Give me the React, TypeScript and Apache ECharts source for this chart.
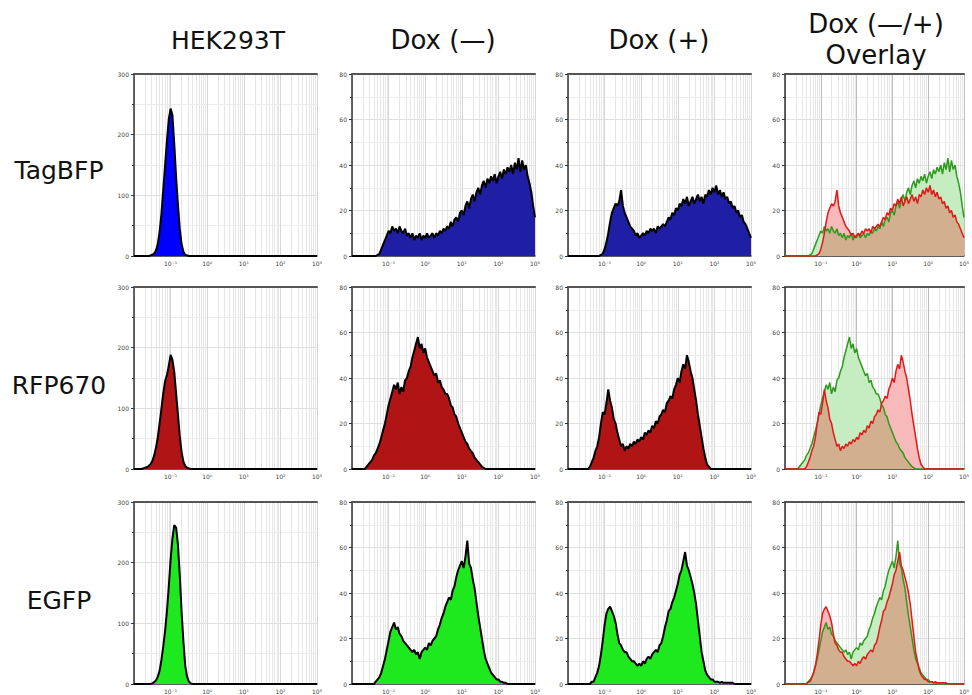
import React, { useEffect, useRef } from "react";
import * as echarts from "echarts";

// x positions are log10 of fluorescence, bins of width 0.05 starting at -2
const X_START = -2;
const X_STEP = 0.05;
const X_MIN = -2;
const X_MAX = 3;
const X_TICKS = [-1, 0, 1, 2, 3];
const X_TICK_LABELS = ["10⁻¹", "10⁰", "10¹", "10²", "10³"];

const COLUMN_TITLES = ["HEK293T", "Dox (—)", "Dox (+)", "Dox (—/+)", "Overlay"];
const ROW_LABELS = ["TagBFP", "RFP670", "EGFP"];
const Y_MAX = [300, 80, 80, 80];
const Y_INTERVAL = [100, 20, 20, 20];

// HEK293T
const HEK_TAGBFP = [
  0, 0, 0, 0, 0, 0, 0, 0, 0, 1,
  2, 4, 9, 20, 40, 70, 110, 150, 190, 225,
  243, 232, 185, 130, 85, 45, 20, 7, 2, 1,
  0, 0, 0, 0, 0, 0, 0, 0, 0, 0,
  0, 0, 0, 0, 0, 0, 0, 0, 0, 0,
  0, 0, 0, 0, 0, 0, 0, 0, 0, 0,
  0, 0, 0, 0, 0, 0, 0, 0, 0, 0,
  0, 0, 0, 0, 0, 0, 0, 0, 0, 0,
  0, 0, 0, 0, 0, 0, 0, 0, 0, 0,
  0, 0, 0, 0, 0, 0, 0, 0, 0, 0,
  0,
];
const HEK_RFP670 = [
  0, 0, 0, 0, 0, 1, 2, 3, 5, 8,
  13, 22, 35, 52, 75, 100, 125, 145, 155, 170,
  188, 180, 160, 125, 90, 55, 28, 12, 5, 2,
  1, 0, 0, 0, 0, 0, 0, 0, 0, 0,
  0, 0, 0, 0, 0, 0, 0, 0, 0, 0,
  0, 0, 0, 0, 0, 0, 0, 0, 0, 0,
  0, 0, 0, 0, 0, 0, 0, 0, 0, 0,
  0, 0, 0, 0, 0, 0, 0, 0, 0, 0,
  0, 0, 0, 0, 0, 0, 0, 0, 0, 0,
  0, 0, 0, 0, 0, 0, 0, 0, 0, 0,
  0,
];
const HEK_EGFP = [
  0, 0, 0, 0, 0, 0, 0, 0, 0, 0,
  1, 3, 6, 12, 22, 40, 62, 88, 120, 160,
  205, 240, 262, 258, 230, 180, 120, 70, 30, 12,
  4, 1, 0, 0, 0, 0, 0, 0, 0, 0,
  0, 0, 0, 0, 0, 0, 0, 0, 0, 0,
  0, 0, 0, 0, 0, 0, 0, 0, 0, 0,
  0, 0, 0, 0, 0, 0, 0, 0, 0, 0,
  0, 0, 0, 0, 0, 0, 0, 0, 0, 0,
  0, 0, 0, 0, 0, 0, 0, 0, 0, 0,
  0, 0, 0, 0, 0, 0, 0, 0, 0, 0,
  0,
];

// Dox (-)
const DOXN_TAGBFP = [
  0, 0, 0, 0, 0, 0, 0, 0, 0, 0,
  0, 0, 0, 0, 0.5, 1, 3, 5, 7, 9,
  11, 10, 13, 11, 12, 10, 13, 11, 10, 12,
  9, 10, 8, 10, 7, 9, 8, 10, 7, 9,
  8, 10, 8, 9, 10, 8, 10, 9, 11, 10,
  12, 11, 13, 12, 15, 13, 16, 17, 15, 19,
  20, 18, 22, 24, 21, 25, 27, 24, 28, 30,
  27, 31, 33, 30, 34, 32, 35, 33, 36, 32,
  35, 37, 34, 38, 36, 39, 37, 40, 36, 41,
  38, 43, 37, 42, 38, 40, 35, 32, 28, 22,
  17,
];
const DOXN_RFP670 = [
  0, 0, 0, 0, 0, 0, 0, 0, 1, 2,
  3, 4, 6, 7, 9, 11, 14, 17, 20, 24,
  28, 31, 34, 37, 35, 38, 33, 36, 34, 39,
  40, 43, 45, 49, 52, 55, 58, 53, 55, 51,
  53, 49, 47, 45, 43, 41, 42, 38, 39, 36,
  35, 33, 33, 31, 28, 27, 24, 23, 20, 18,
  16, 14, 12, 11, 9, 8, 7, 5, 4, 3,
  2, 1, 0.5, 0, 0, 0, 0, 0, 0, 0,
  0, 0, 0, 0, 0, 0, 0, 0, 0, 0,
  0, 0, 0, 0, 0, 0, 0, 0, 0, 0,
  0,
];
const DOXN_EGFP = [
  0, 0, 0, 0, 0, 0, 0, 0, 0, 0,
  0, 0, 0, 1, 2, 3, 5, 8, 11, 15,
  19, 23, 25, 27, 24, 25, 22, 21, 19, 18,
  17, 16, 15, 14, 15, 13, 14, 11, 14, 15,
  16, 15, 18, 17, 19, 20, 21, 24, 26, 29,
  31, 34, 36, 38, 37, 41, 43, 47, 50, 52,
  54, 51, 56, 63, 53, 51, 46, 42, 36, 30,
  25, 20, 15, 11, 9, 7, 5, 4, 3, 2,
  2, 1, 1, 0.5, 0.5, 0, 0, 0, 0, 0,
  0, 0, 0, 0, 0, 0, 0, 0, 0, 0,
  0,
];

// Dox (+)
const DOXP_TAGBFP = [
  0, 0, 0, 0, 0, 0, 0, 0, 0, 0,
  0, 0, 0, 0, 0, 0, 0, 0, 0.5, 1,
  3, 6, 10, 15, 19, 21, 23, 22, 24, 29,
  22, 19, 17, 15, 13, 12, 11, 9, 10, 8,
  9, 10, 9, 11, 10, 12, 11, 12, 10, 13,
  12, 13, 14, 13, 15, 17, 16, 19, 18, 21,
  20, 23, 22, 25, 23, 26, 22, 24, 26, 23,
  25, 27, 24, 26, 23, 27, 26, 29, 27, 30,
  28, 31, 27, 29, 26, 28, 25, 26, 23, 24,
  21, 22, 19, 20, 17, 18, 15, 14, 12, 10,
  8,
];
const DOXP_RFP670 = [
  0, 0, 0, 0, 0, 0, 0, 0, 0, 0,
  0, 0, 1, 3, 5, 8, 10, 14, 20, 25,
  24, 29, 35, 30, 27, 22, 20, 16, 13, 10,
  11, 8, 10, 9, 11, 10, 12, 11, 13, 12,
  14, 13, 16, 15, 17, 16, 19, 18, 21, 20,
  23, 24, 26, 25, 29, 30, 32, 31, 35, 37,
  40, 38, 43, 46, 44, 50, 47, 43, 40, 35,
  30, 24, 19, 14, 9, 5, 2, 1, 0, 0,
  0, 0, 0, 0, 0, 0, 0, 0, 0, 0,
  0, 0, 0, 0, 0, 0, 0, 0, 0, 0,
  0,
];
const DOXP_EGFP = [
  0, 0, 0, 0, 0, 0, 0, 0, 0, 0,
  0, 0, 0, 1, 1, 3, 5, 8, 13, 19,
  26, 31, 33, 34, 32, 30, 27, 22, 18, 17,
  15, 14, 14, 12, 11, 10, 10, 9, 8, 9,
  8, 10, 9, 11, 12, 11, 13, 14, 15, 14,
  17, 18, 21, 25, 28, 32, 33, 36, 38, 41,
  44, 48, 50, 54, 58, 52, 50, 47, 44, 40,
  35, 28, 21, 14, 10, 6, 4, 3, 2, 2,
  1, 1, 1, 0.5, 1, 0.5, 0.5, 0.5, 0.5, 0.5,
  0.5, 0, 0, 0, 0, 0, 0, 0, 0, 0,
  0,
];

const HEK_ROWS = [HEK_TAGBFP, HEK_RFP670, HEK_EGFP];
const DOXN_ROWS = [DOXN_TAGBFP, DOXN_RFP670, DOXN_EGFP];
const DOXP_ROWS = [DOXP_TAGBFP, DOXP_RFP670, DOXP_EGFP];

// styling
const HEK_FILLS = ["#0000ff", "#b01414", "#1ee81e"];
const DOX_FILLS = ["#1f1fa6", "#b01414", "#1ee81e"];
const OVERLAY = {
  minusFill: "#c6ecc1",
  plusFill: "#f7b9b9",
  bothFill: "#d1af8f",
  minusLine: "#2e9a1c",
  plusLine: "#e01818",
};

const COL_LEFT = [134, 352, 568, 785];
const ROW_TOP = [74, 287, 502];
const PLOT_W = 183;
const PLOT_H = 182;

// minor log grid positions (2..9 x 10^n)
const MINOR_X: number[] = [];
for (let n = X_MIN; n < X_MAX; n++) {
  for (let k = 2; k <= 9; k++) MINOR_X.push(n + Math.log10(k));
}

function toPairs(values: number[]) {
  return values.map((v, i) => [X_START + i * X_STEP, v]);
}

function buildOption() {
  const grid: any[] = [];
  const xAxis: any[] = [];
  const topAxes: any[] = [];
  const minorAxes: any[] = [];
  const yAxis: any[] = [];
  const series: any[] = [];

  for (let r = 0; r < 3; r++) {
    for (let c = 0; c < 4; c++) {
      const g = r * 4 + c;
      grid.push({ left: COL_LEFT[c], top: ROW_TOP[r], width: PLOT_W, height: PLOT_H });
      xAxis.push({
        type: "value",
        gridIndex: g,
        position: "bottom",
        min: X_MIN,
        max: X_MAX,
        interval: 1,
        z: 1,
        axisLine: { show: true, onZero: false, lineStyle: { color: "#333", width: 1.5 } },
        axisTick: { show: false },
        minorTick: { show: false },
        axisLabel: {
          fontSize: 6,
          color: "#444",
          margin: 4,
          showMaxLabel: true,
          fontFamily: "DejaVu Sans",
          formatter: (v: number) => {
            const idx = X_TICKS.indexOf(Math.round(v));
            return idx >= 0 ? X_TICK_LABELS[idx] : "";
          },
        },
        splitLine: { show: true, lineStyle: { color: c === 3 ? "#bdbdbd" : "#d6d6d6", width: 1 } },
      });
      topAxes.push({
        type: "value",
        gridIndex: g,
        position: "top",
        min: X_MIN,
        max: X_MAX,
        interval: 1,
        z: 1,
        axisLine: { show: true, onZero: false, lineStyle: { color: "#555", width: 2 } },
        axisTick: { show: false },
        minorTick: { show: false },
        axisLabel: { show: false },
        splitLine: { show: false },
        minorSplitLine: { show: false },
      });
      // hidden axis whose long inside ticks draw the minor log grid
      minorAxes.push({
        type: "value",
        gridIndex: g,
        position: "bottom",
        min: X_MIN,
        max: X_MAX,
        z: 0,
        axisLine: { show: false, onZero: false },
        axisLabel: { show: false },
        splitLine: { show: false },
        axisTick: {
          show: true,
          inside: true,
          length: PLOT_H,
          customValues: MINOR_X,
          lineStyle: { color: "#e6e6e6", width: 1 },
        },
      });
      yAxis.push({
        type: "value",
        gridIndex: g,
        min: 0,
        max: Y_MAX[c],
        interval: Y_INTERVAL[c],
        z: 1,
        axisLine: { show: true, onZero: false, lineStyle: { color: "#333", width: 1.5 } },
        axisTick: { show: true, length: 3, lineStyle: { color: "#333" } },
        minorTick: { show: true, splitNumber: 2, length: 2, lineStyle: { color: "#333" } },
        axisLabel: { fontSize: 6, color: "#444", margin: 5, fontFamily: "DejaVu Sans" },
        splitLine: { show: true, lineStyle: { color: "#e0e0e0" } },
        minorSplitLine: { show: true, lineStyle: { color: "#ececec" } },
      });

      const base = {
        type: "line",
        xAxisIndex: g,
        yAxisIndex: g,
        symbol: "none",
        showSymbol: false,
        silent: true,
        z: 2,
      };

      if (c < 3) {
        const values = c === 0 ? HEK_ROWS[r] : c === 1 ? DOXN_ROWS[r] : DOXP_ROWS[r];
        const fill = c === 0 ? HEK_FILLS[r] : DOX_FILLS[r];
        series.push({
          ...base,
          name: `${ROW_LABELS[r]} ${COLUMN_TITLES[c]}`,
          data: toPairs(values),
          lineStyle: { color: "#000", width: 2 },
          areaStyle: { color: fill, opacity: 1 },
        });
      } else {
        const minus = DOXN_ROWS[r];
        const plus = DOXP_ROWS[r];
        const both = minus.map((v, i) => Math.min(v, plus[i]));
        series.push({
          ...base,
          name: `${ROW_LABELS[r]} Dox(-) fill`,
          data: toPairs(minus),
          lineStyle: { width: 0, opacity: 0 },
          areaStyle: { color: OVERLAY.minusFill, opacity: 1 },
        });
        series.push({
          ...base,
          name: `${ROW_LABELS[r]} Dox(+) fill`,
          data: toPairs(plus),
          lineStyle: { width: 0, opacity: 0 },
          areaStyle: { color: OVERLAY.plusFill, opacity: 1 },
        });
        series.push({
          ...base,
          name: `${ROW_LABELS[r]} overlap`,
          data: toPairs(both),
          lineStyle: { width: 0, opacity: 0 },
          areaStyle: { color: OVERLAY.bothFill, opacity: 1 },
        });
        series.push({
          ...base,
          name: `${ROW_LABELS[r]} Dox(-) line`,
          data: toPairs(minus),
          lineStyle: { color: OVERLAY.minusLine, width: 1.5 },
        });
        series.push({
          ...base,
          name: `${ROW_LABELS[r]} Dox(+) line`,
          data: toPairs(plus),
          lineStyle: { color: OVERLAY.plusLine, width: 1.5 },
        });
      }
    }
  }

  const font = '"DejaVu Sans", Verdana, sans-serif';
  const textStyle = (text: string, size: number) => ({
    text,
    fontSize: size,
    fontFamily: font,
    fill: "#111",
    align: "center",
    verticalAlign: "middle",
  });
  const graphic: any[] = [
    { type: "text", x: 228, y: 40, style: textStyle(COLUMN_TITLES[0], 25) },
    { type: "text", x: 443, y: 40, style: textStyle(COLUMN_TITLES[1], 26) },
    { type: "text", x: 659, y: 40, style: textStyle(COLUMN_TITLES[2], 26) },
    { type: "text", x: 876, y: 24, style: textStyle(COLUMN_TITLES[3], 26) },
    { type: "text", x: 876, y: 55, style: textStyle(COLUMN_TITLES[4], 26) },
    { type: "text", x: 59, y: 170, style: textStyle(ROW_LABELS[0], 25) },
    { type: "text", x: 59, y: 385, style: textStyle(ROW_LABELS[1], 25) },
    { type: "text", x: 59, y: 600, style: textStyle(ROW_LABELS[2], 25) },
  ];

  return {
    animation: false,
    backgroundColor: "#ffffff",
    grid,
    xAxis: [...xAxis, ...topAxes, ...minorAxes],
    yAxis,
    series,
    graphic,
  };
}

export default function App() {
  const ref = useRef<HTMLDivElement>(null);
  useEffect(() => {
    if (!ref.current) return;
    const chart = echarts.init(ref.current, undefined, { renderer: "svg" });
    chart.setOption(buildOption() as any);
    return () => chart.dispose();
  }, []);
  return (
    <div
      ref={ref}
      style={{ position: "absolute", left: 0, top: 0, width: 972, height: 695, background: "#fff" }}
    />
  );
}
